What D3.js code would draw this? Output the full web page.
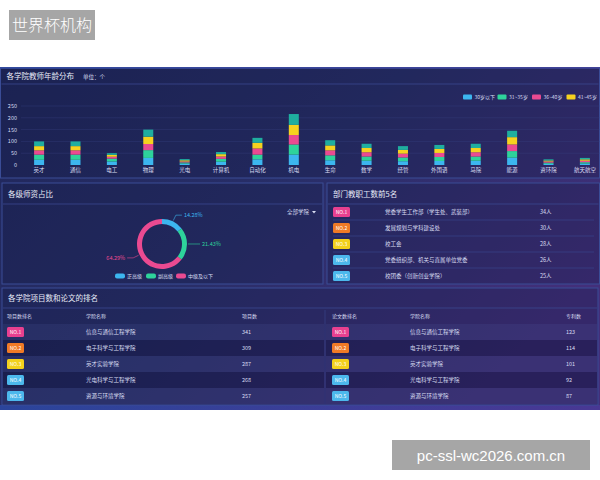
<!DOCTYPE html>
<html><head><meta charset="utf-8">
<script src="https://cdn.jsdelivr.net/npm/d3@7"></script>
<style>html,body{margin:0;padding:0;background:#fff;}svg{display:block;font-family:"Noto Sans CJK SC","Noto Sans",sans-serif;}</style>
</head><body>
<svg id="c" width="600" height="480"></svg>
<script>
// ---------- data ----------
const categories = ["英才","通信","电工","物理","光电","计算机","自动化","机电","生命","数学","经管","外国语","马院","能源","资环院","航天航空"];
const seriesNames = ["30岁以下","31~35岁","36~40岁","41~45岁","46岁以上"];
const age30 = [22,22,15,30,6,14,24,44,20,18,16,17,18,31,5,6];
const age31_35 = [22,22,12,33,5,12,20,43,21,18,16,17,18,28,5,6];
const age36_40 = [18,18,8,26,4,10,26,40,21,18,16,17,18,28,5,6];
const age41_45 = [18,18,8,31,5,10,24,43,21,18,16,17,18,31,4,6];
const age46 = [20,20,7,30,5,9,21,46,22,18,16,17,18,27,5,6];
const yTicks = [0,50,100,150,200,250];

const levelNames = ["正高级","副高级","中级及以下"];
const levelPct = [14.28,21.43,64.29];

const deptNames = ["党委学生工作部（学生处、武装部）","发展规划与学科建设处","校工会","党委组织部、机关与直属单位党委","校团委（创新创业学院）"];
const deptCounts = [34,30,28,26,25];

const projSchools = ["信息与通信工程学院","电子科学与工程学院","英才实验学院","光电科学与工程学院","资源与环境学院"];
const projCounts = [341,309,287,268,257];
const paperSchools = ["信息与通信工程学院","电子科学与工程学院","英才实验学院","光电科学与工程学院","资源与环境学院"];
const paperCounts = [123,114,101,92,87];
const rankLabels = ["NO.1","NO.2","NO.3","NO.4","NO.5"];

// ---------- styles ----------
const seriesColors = ["#3cb6ef","#2ed39b","#ea4a91","#f6d21f","#1fae9f"];
const rankColors = ["#e8408f","#ef7a26","#f3d11c","#4cb8ec","#4cb8ec"];
const txt = "#d9ddf2";

const svg = d3.select("#c");
const defs = svg.append("defs");
const bg = defs.append("linearGradient").attr("id","bg").attr("x1","0").attr("y1","0").attr("x2","1").attr("y2","0.6");
bg.append("stop").attr("offset","0").attr("stop-color","#1f2659");
bg.append("stop").attr("offset","0.5").attr("stop-color","#282e68");
bg.append("stop").attr("offset","1").attr("stop-color","#432f7a");
const edge = defs.append("linearGradient").attr("id","edge").attr("x1","0").attr("y1","0").attr("x2","1").attr("y2","0");
edge.append("stop").attr("offset","0").attr("stop-color","#2c4aa8");
edge.append("stop").attr("offset","1").attr("stop-color","#4a3a9a");

svg.append("rect").attr("width",600).attr("height",480).attr("fill","#fff");
svg.append("rect").attr("x",0).attr("y",67).attr("width",600).attr("height",343).attr("fill","url(#bg)");
svg.append("rect").attr("x",0).attr("y",67).attr("width",600).attr("height",2).attr("fill","url(#edge)");
svg.append("rect").attr("x",0).attr("y",405).attr("width",600).attr("height",5).attr("fill","url(#edge)").attr("opacity",0.8);

function panel(x,y,w,h,title,lineY){
  svg.append("rect").attr("x",x).attr("y",y).attr("width",w).attr("height",h)
    .attr("fill","#121840").attr("fill-opacity",0.28).attr("stroke","#3a4c96").attr("stroke-width",1);
  svg.append("line").attr("x1",x+1).attr("x2",x+w-1).attr("y1",lineY).attr("y2",lineY).attr("stroke","#3a4890").attr("stroke-width",0.8);
  svg.append("text").attr("x",x+6).attr("y",y+(lineY-y)/2+3).attr("fill","#e8ebf8").attr("font-size",7.5).text(title);
}

// ---------- top panel: stacked bars ----------
panel(0.5,68,599,110,"各学院教师年龄分布",84);
svg.append("text").attr("x",83).attr("y",79).attr("fill",txt).attr("font-size",5.5).text("单位：个");

const x = d3.scaleBand().domain(categories).range([21,603]).paddingInner(0.725).paddingOuter(0.36);
const y = d3.scaleLinear().domain([0,250]).range([165,106]);
const gy = svg.append("g");
yTicks.forEach(t=>{
  gy.append("line").attr("x1",21).attr("x2",600).attr("y1",y(t)).attr("y2",y(t)).attr("stroke","#3a4585").attr("stroke-width",0.5).attr("opacity",t===0?0:0.7);
  gy.append("text").attr("x",17).attr("y",y(t)+2).attr("text-anchor","end").attr("fill",txt).attr("font-size",5.5).text(t);
});
const rows = categories.map((c,i)=>({cat:c,[seriesNames[0]]:age30[i],[seriesNames[1]]:age31_35[i],[seriesNames[2]]:age36_40[i],[seriesNames[3]]:age41_45[i],[seriesNames[4]]:age46[i]}));
const stack = d3.stack().keys(seriesNames)(rows);
stack.forEach((s,si)=>{
  svg.append("g").selectAll("rect").data(s).join("rect")
    .attr("x",d=>x(d.data.cat)).attr("width",x.bandwidth())
    .attr("y",d=>y(d[1])).attr("height",d=>y(d[0])-y(d[1]))
    .attr("fill",seriesColors[si]);
});
svg.append("g").selectAll("text").data(categories).join("text")
  .attr("x",d=>x(d)+x.bandwidth()/2).attr("y",172).attr("text-anchor","middle")
  .attr("fill",txt).attr("font-size",5.5).text(d=>d);
// legend
seriesNames.forEach((n,i)=>{
  const lx = 463 + i*34.5;
  svg.append("rect").attr("x",lx).attr("y",94.5).attr("width",9).attr("height",5).attr("rx",1).attr("fill",seriesColors[i]);
  svg.append("text").attr("x",lx+11.5).attr("y",99).attr("fill",txt).attr("font-size",5).text(n);
});

// ---------- middle-left: donut ----------
panel(2,183,321,101,"各级师资占比",204);
svg.append("text").attr("x",287).attr("y",214).attr("fill",txt).attr("font-size",5.5).text("全部学院");
svg.append("path").attr("d","M312,211 L316,211 L314,213.5 Z").attr("fill",txt);
const cx=162, cy=244, ro=25, ri=20;
const pie = d3.pie().sort(null).value(d=>d)(levelPct);
const arc = d3.arc().innerRadius(ri).outerRadius(ro);
const gp = svg.append("g").attr("transform",`translate(${cx},${cy})`);
gp.selectAll("path").data(pie).join("path").attr("d",arc).attr("fill",(d,i)=>seriesColors[i]);
pie.forEach((d,i)=>{
  const a=(d.startAngle+d.endAngle)/2;
  const p0=[Math.sin(a)*(ro+1),-Math.cos(a)*(ro+1)];
  const p1=[Math.sin(a)*(ro+7),-Math.cos(a)*(ro+7)];
  const right = Math.sin(a)>=0;
  const p2=[p1[0]+(right?6:-6),p1[1]];
  gp.append("polyline").attr("points",[p0,p1,p2].map(p=>p.join(",")).join(" "))
    .attr("fill","none").attr("stroke",seriesColors[i]).attr("stroke-width",0.6);
  gp.append("text").attr("x",p2[0]+(right?2:-2)).attr("y",p2[1]+2)
    .attr("text-anchor",right?"start":"end").attr("fill",seriesColors[i]).attr("font-size",5.5)
    .text(d.data.toFixed(2)+"%");
});
levelNames.forEach((n,i)=>{
  const lx=[115,146,176][i];
  svg.append("rect").attr("x",lx).attr("y",273.5).attr("width",10).attr("height",5).attr("rx",2).attr("fill",seriesColors[i]);
  svg.append("text").attr("x",lx+12).attr("y",278).attr("fill",txt).attr("font-size",5).text(n);
});

// ---------- middle-right: departments ----------
panel(327,183,272.5,101,"部门教职工数前5名",204);
function badge(g,bx,by,i){
  g.append("rect").attr("x",bx).attr("y",by-5).attr("width",17).attr("height",10).attr("rx",1.5).attr("fill",rankColors[i]);
  g.append("text").attr("x",bx+8.5).attr("y",by+2).attr("text-anchor","middle").attr("fill","#fff").attr("font-size",5).text(rankLabels[i]);
}
const rowY = d3.scaleBand().domain(d3.range(5)).range([204,284]);
deptNames.forEach((n,i)=>{
  const cyy = rowY(i)+rowY.bandwidth()/2;
  if(i<4) svg.append("line").attr("x1",333).attr("x2",594).attr("y1",rowY(i)+16).attr("y2",rowY(i)+16).attr("stroke","#3a4890").attr("stroke-width",0.6);
  badge(svg,333,cyy,i);
  svg.append("text").attr("x",385).attr("y",cyy+2).attr("fill",txt).attr("font-size",5.5).text(n);
  svg.append("text").attr("x",540).attr("y",cyy+2).attr("fill",txt).attr("font-size",5.5).text(deptCounts[i]+"人");
});

// ---------- bottom: rankings ----------
panel(2,288,596,117,"各学院项目数和论文的排名",308);
const tY = d3.scaleBand().domain(d3.range(5)).range([324,404]);
svg.append("line").attr("x1",325).attr("x2",325).attr("y1",310).attr("y2",404).attr("stroke","#3a4890").attr("stroke-width",0.6);
function table(x0,x1,headers,hx,names,vals){
  headers.forEach((h,k)=>svg.append("text").attr("x",hx[k]).attr("y",318).attr("fill",txt).attr("font-size",5).text(h));
  names.forEach((n,i)=>{
    const ry=tY(i);
    svg.append("rect").attr("x",x0).attr("y",ry).attr("width",x1-x0).attr("height",tY.bandwidth())
      .attr("fill",i%2===0?"#5a66b0":"#0c1238").attr("fill-opacity",i%2===0?0.15:0.3);
    const cyy=ry+tY.bandwidth()/2;
    badge(svg,hx[0],cyy,i);
    svg.append("text").attr("x",hx[1]).attr("y",cyy+2).attr("fill",txt).attr("font-size",5.5).text(n);
    svg.append("text").attr("x",hx[2]).attr("y",cyy+2).attr("fill",txt).attr("font-size",5.5).text(vals[i]);
  });
}
table(3,324,["项目数排名","学院名称","项目数"],[7,86,242],projSchools,projCounts);
table(326,597,["论文数排名","学院名称","专利数"],[332,410,566],paperSchools,paperCounts);

// ---------- watermarks ----------
svg.append("rect").attr("x",9).attr("y",10).attr("width",86).attr("height",30).attr("fill","#a6a6a6");
svg.append("text").attr("x",52).attr("y",31).attr("text-anchor","middle").attr("fill","#fff").attr("font-size",16).attr("font-weight",300).text("世界杯机构");
svg.append("rect").attr("x",392).attr("y",440).attr("width",198).attr("height",30).attr("fill","#a6a6a6");
svg.append("text").attr("x",491).attr("y",461).attr("text-anchor","middle").attr("fill","#fff").attr("font-size",15).attr("font-family","Liberation Sans, Arial, sans-serif").text("pc-ssl-wc2026.com.cn");
</script>
</body></html>
